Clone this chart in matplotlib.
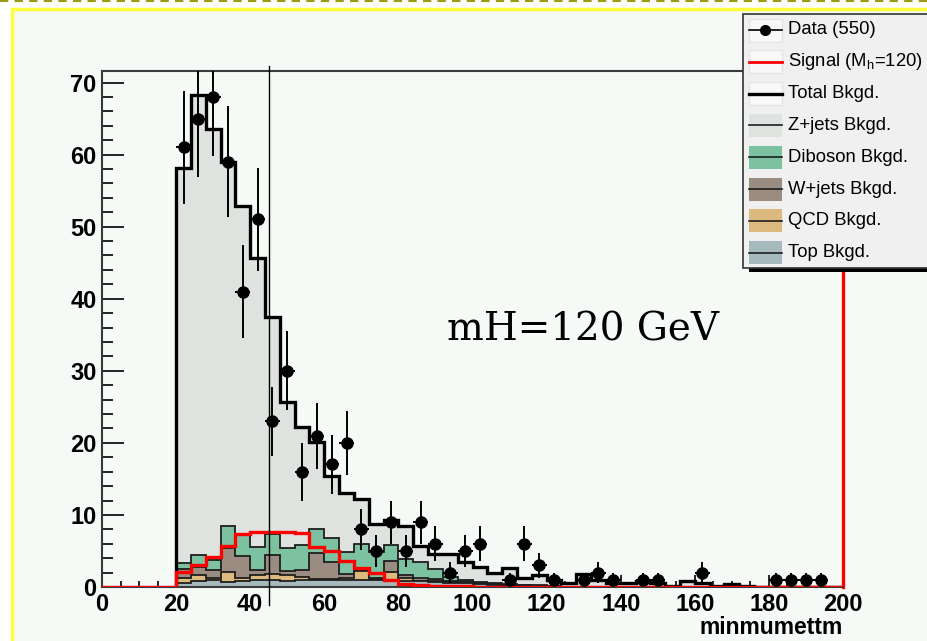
import numpy as np
import matplotlib.pyplot as plt
from matplotlib.patches import Rectangle
from matplotlib.ticker import MultipleLocator

plt.rcParams['font.family'] = ['Liberation Sans', 'DejaVu Sans']
plt.rcParams['mathtext.fontset'] = 'custom'
plt.rcParams['mathtext.rm'] = 'Liberation Sans'

# --- histogram contents: 4 GeV bins from 20 to 200 --- #
bin_edges = np.arange(20, 201, 4)

top_bkg = [0.6, 0.8, 1.0, 0.7, 0.85, 1.0, 1.0, 0.9, 1.0, 1.0, 1.0, 1.0, 1.0, 1.0, 1.0,
           0.9, 0.8, 0.7, 0.6, 0.5, 0.4, 0.3, 0.2, 0.15, 0.1, 0.1, 0.05, 0.05,
           0, 0, 0, 0, 0, 0, 0, 0, 0, 0, 0, 0, 0, 0, 0, 0, 0]
qcd_bkg = [0.7, 0.8, 0.3, 1.4, 0.45, 0.7, 0.8, 0.7, 0.4, 0.1, 0.1, 0.2, 1.27, 0.1, 1.1,
           0.3, 0.1, 0.1, 0.1, 0.1, 0.05, 0.05, 0.05, 0.05, 0.05,
           0, 0, 0, 0, 0, 0, 0, 0, 0, 0, 0, 0, 0, 0, 0, 0, 0, 0, 0, 0]
wjets_bkg = [1.15, 1.2, 1.0, 3.35, 3.0, 0.6, 2.7, 0.6, 0.96, 3.66, 2.4, 0.56, 0.13, 0.2, 1.5,
             0.5, 0.4, 0.3, 0.1, 0.2, 0.15, 0.1, 0.05, 0.05, 0.05, 0.05,
             0, 0, 0, 0, 0, 0, 0, 0, 0, 0, 0, 0, 0, 0, 0, 0, 0, 0, 0]
diboson_bkg = [0.85, 1.6, 1.5, 2.95, 3.0, 3.3, 2.9, 3.25, 3.47, 3.24, 3.25, 3.04, 3.6, 3.6, 2.23,
               2.2, 2.2, 1.35, 0.6, 0.2, 0.15, 0.05, 0.1, 0.05, 0.05, 0.05,
               0, 0, 0, 0, 0, 0, 0, 0, 0, 0, 0, 0, 0, 0, 0, 0, 0, 0, 0]
zjets_bkg = [54.9, 63.9, 59.7, 50.6, 45.6, 40.1, 30.1, 20.2, 16.4, 12.1, 8.6, 8.3, 6.2, 3.8, 3.4,
             4.5, 2.2, 2.1, 3.2, 2.5, 2.0, 1.4, 2.2, 0.9, 1.4, 0.8, 0.45, 1.75, 1.0, 0.5,
             0.5, 0.9, 0.5, 0.2, 0.9, 0.5, 0.2, 0.4, 0.2, 0, 0, 0, 0, 0, 0]

signal = [2.1, 3.05, 4.2, 5.7, 7.3, 7.7, 7.7, 7.6, 7.5, 5.6, 5.0, 3.6, 2.7, 1.9, 1.0,
          0.45, 0.25, 0.15, 0.1, 0.1,
          0, 0, 0, 0, 0, 0, 0, 0, 0, 0, 0, 0, 0, 0, 0, 0, 0, 0, 0, 0, 0, 0, 0, 0, 0]

data_x = [22, 26, 30, 34, 38, 42, 46, 50, 54, 58, 62, 66, 70, 74, 78, 82, 86, 90, 94, 98,
          102, 110, 114, 118, 122, 130, 134, 138, 146, 150, 162, 182, 186, 190, 194]
data_n = [61, 65, 68, 59, 41, 51, 23, 30, 16, 21, 17, 20, 8, 5, 9, 5, 9, 6, 2, 5,
          6, 1, 6, 3, 1, 1, 2, 1, 1, 1, 2, 1, 1, 1, 1]

cut_value = 45.2

layers = [  # bottom to top
    ("Top Bkgd.", top_bkg, "#a6b9bd"),
    ("QCD Bkgd.", qcd_bkg, "#dcb97f"),
    ("W+jets Bkgd.", wjets_bkg, "#9b8c82"),
    ("Diboson Bkgd.", diboson_bkg, "#7dc2a0"),
    ("Z+jets Bkgd.", zjets_bkg, "#dfe3df"),
]

bg_color = "#f5faf7"
fig = plt.figure(figsize=(9.27, 6.41), dpi=100)

# canvas decoration (pixel coords)
bg = fig.add_axes([0, 0, 1, 1], zorder=-1)
bg.set_xlim(0, 927)
bg.set_ylim(641, 0)
bg.axis("off")
bg.add_patch(Rectangle((12, 8.5), 940, 660, fc=bg_color, ec="#ffff3c", lw=2.5))
bg.plot([0, 927], [1, 1], ls=(0, (4, 3)), color="#9c9c14", lw=1.5)

ax = fig.add_axes([102 / 927, 54 / 641, 741 / 927, 516 / 641])
ax.set_facecolor("none")
ax.set_axisbelow(True)

cum = np.cumsum([np.array(v, dtype=float) for _, v, _ in layers], axis=0)
for i in range(len(layers) - 1, -1, -1):
    ax.stairs(cum[i], bin_edges, baseline=0, fill=True, facecolor=layers[i][2],
              edgecolor="#1e1e1e", linewidth=1.3)
total = cum[-1]
ax.stairs(total, bin_edges, baseline=0, color="black", linewidth=2.4, zorder=2)

sig_edges = np.arange(0, 201, 4)
sig_full = np.concatenate([np.zeros(5), signal])
ax.stairs(sig_full, sig_edges, baseline=0, color="red", linewidth=2.4, zorder=3)

ax.axvline(cut_value, ymin=-0.035, ymax=1.01, color="black", lw=1.0, clip_on=False, zorder=4)

ax.errorbar(data_x, data_n, yerr=np.sqrt(data_n), xerr=2, fmt="o", color="black",
            ms=8, elinewidth=1.4, capsize=0, zorder=5)

ax.text(93, 35.6, "mH=120 GeV", family="DejaVu Serif", fontsize=28, va="center", ha="left")

ax.set_xlim(0, 200)
ax.set_ylim(0, 71.6)
ax.xaxis.set_major_locator(MultipleLocator(20))
ax.xaxis.set_minor_locator(MultipleLocator(5))
ax.yaxis.set_major_locator(MultipleLocator(10))
ax.yaxis.set_minor_locator(MultipleLocator(2))
ax.tick_params(which="both", direction="in", top=False, right=False, width=1.2)
ax.tick_params(axis="y", which="major", length=15.8, pad=4, labelsize=17)
ax.tick_params(axis="y", which="minor", length=7.9)
ax.tick_params(axis="x", which="major", length=8.6, pad=4, labelsize=17)
ax.tick_params(axis="x", which="minor", length=4.3)
for lab in ax.get_xticklabels() + ax.get_yticklabels():
    lab.set_fontweight("bold")
ax.set_xlabel("minmumettm", loc="right", fontsize=16.5, fontweight="bold", labelpad=0)

for side in ["top", "left", "bottom"]:
    ax.spines[side].set_color("#3a3a3a")
    ax.spines[side].set_linewidth(1.5)
ax.spines["right"].set_color("red")
ax.spines["right"].set_linewidth(2.4)

# --- legend (pixel coords) --- #
lax = fig.add_axes([0, 0, 1, 1], zorder=6)
lax.set_xlim(0, 927)
lax.set_ylim(641, 0)
lax.axis("off")
lax.add_patch(Rectangle((749, 267), 200, 5, fc="black", ec="none"))
lax.add_patch(Rectangle((743, 14), 200, 254, fc="#f0f0f0", ec="#333333", lw=1.2))

row_y = [30 + 31.8 * i for i in range(8)]
sx0, sx1 = 749, 782
for i in range(3):
    lax.add_patch(Rectangle((sx0, row_y[i] - 11.5), sx1 - sx0, 23, fc="#f8f8f8", ec="#e4e4e4", lw=1))
lax.plot([sx0, sx1], [row_y[0]] * 2, color="black", lw=1.2)
lax.plot([(sx0 + sx1) / 2], [row_y[0]], "o", color="black", ms=7)
lax.plot([sx0, sx1], [row_y[1]] * 2, color="red", lw=2)
lax.plot([sx0, sx1], [row_y[2]] * 2, color="black", lw=2.4)
for k, (name, _, color) in enumerate(reversed(layers)):
    y = row_y[3 + k]
    lax.add_patch(Rectangle((sx0, y - 11.5), sx1 - sx0, 23, fc=color, ec="none"))
    lax.plot([sx0, sx1], [y, y], color="#1e1e1e", lw=1.2)

labels = ["Data (550)", r"Signal (M$_\mathrm{h}$=120)", "Total Bkgd."] + [l[0] for l in reversed(layers)]
for y, txt in zip(row_y, labels):
    lax.text(788, y, txt, fontsize=13.3, va="center", ha="left")

fig.savefig("out.png", dpi=100, facecolor="white")
